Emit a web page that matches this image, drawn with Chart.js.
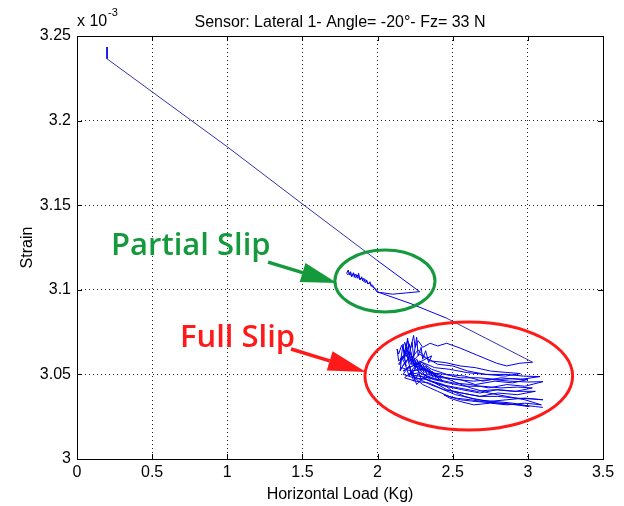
<!DOCTYPE html>
<html>
<head>
<meta charset="utf-8">
<script src="https://cdn.jsdelivr.net/npm/chart.js@4"></script>
<style>
  body { margin: 0; background: #fff; }
</style>
</head>
<body>
<canvas id="c" width="624" height="506"></canvas>
<script>
// axis ticks
const xTicks = [0, 0.5, 1, 1.5, 2, 2.5, 3, 3.5]
const yTicks = [3, 3.05, 3.1, 3.15, 3.2, 3.25]

// stick phase: straight drop of strain (x 10^-3) with load
const stickX = [0.20, 0.20, 1.00, 1.50, 2.00, 2.28]
const stickY = [3.2435, 3.2365, 3.1845, 3.1507, 3.1172, 3.0989]

// partial slip: back down to ~1.8 Kg with noise, then up again
const partialX = [2.10, 2.02, 2.005, 1.998, 1.987, 1.976, 1.967, 1.956, 1.949, 1.938, 1.927, 1.918, 1.909, 1.900,
  1.894, 1.883, 1.874, 1.865, 1.856, 1.845, 1.839, 1.828, 1.821, 1.812, 1.805, 1.794,
  1.803, 1.816, 1.826, 1.842, 1.852, 1.870, 1.880, 1.896, 1.905, 1.922, 1.934, 1.952, 1.962, 1.980, 1.994,
  2.216, 2.46, 3.032]
const partialY = [3.0974, 3.0984, 3.0985, 3.0995, 3.1003, 3.1009, 3.1028, 3.1022, 3.1048, 3.1034, 3.1058, 3.1042, 3.1068, 3.1054,
  3.1077, 3.1058, 3.1097, 3.1068, 3.1093, 3.1074, 3.1101, 3.1077, 3.1107, 3.1087, 3.1117, 3.1097,
  3.1090, 3.1102, 3.1080, 3.1096, 3.1072, 3.1088, 3.1062, 3.1070, 3.1050, 3.1060, 3.1036, 3.1040, 3.1020, 3.1012, 3.0989,
  3.0920, 3.0832, 3.0572]

// full slip: loops back and forth between ~2.1 and ~3.1 Kg
const fullX = [
  2.947, 2.859, 2.792, 2.659, 2.548, 2.46, 2.40, 2.35, 2.30, 2.27, 2.25, 2.24, 2.22, 2.20, 2.18, 2.16, 2.14, 2.13, 2.14,
  2.19, 2.23, 2.28, 2.35, 2.45, 2.55, 2.65, 2.75, 2.85, 2.95,
  2.85, 2.72, 2.60, 2.50, 2.40, 2.32, 2.27, 2.23, 2.21, 2.18, 2.15,
  2.19, 2.22, 2.30, 2.38, 2.48, 2.60, 2.72, 2.85, 2.97, 3.08,
  2.95, 2.82, 2.70, 2.58, 2.46, 2.36, 2.28, 2.25, 2.22, 2.19, 2.17, 2.14,
  2.15, 2.17, 2.18, 2.20, 2.21, 2.23, 2.24, 2.26, 2.27, 2.29, 2.30, 2.32, 2.34, 2.36,
  2.17, 2.20, 2.27, 2.35, 2.45, 2.55, 2.67, 2.80, 2.90, 3.00,
  2.90, 2.78, 2.65, 2.55, 2.43, 2.33, 2.29, 2.26, 2.23, 2.20, 2.16,
  2.22, 2.30, 2.40, 2.52, 2.64, 2.76, 2.88, 3.00, 3.10,
  2.98, 2.86, 2.74, 2.62, 2.50, 2.40, 2.30, 2.24, 2.21, 2.18, 2.15,
  2.16, 2.19, 2.17, 2.21, 2.18, 2.23, 2.20, 2.25, 2.22, 2.27, 2.24, 2.29, 2.26, 2.31, 2.28, 2.33, 2.30, 2.35, 2.32, 2.37,
  2.34, 2.39, 2.36, 2.41, 2.38, 2.43,
  2.21, 2.28, 2.37, 2.47, 2.58, 2.70, 2.82, 2.93, 3.03,
  2.92, 2.80, 2.68, 2.56, 2.45, 2.35, 2.27, 2.24, 2.21, 2.17,
  2.24, 2.32, 2.42, 2.54, 2.66, 2.78, 2.90, 3.05,
  2.93, 2.80, 2.68, 2.56, 2.46, 2.38, 2.30, 2.26, 2.23, 2.18,
  2.25, 2.34, 2.44, 2.56, 2.68, 2.80, 2.92, 3.02, 3.10,
  2.98, 2.86, 2.74, 2.62, 2.52, 2.415, 2.35, 2.28, 2.22,
  2.30, 2.40, 2.48, 2.526, 2.62, 2.70, 2.82, 2.92, 3.01,
  2.90, 2.78, 2.66, 2.58, 2.50, 2.44, 2.36, 2.30, 2.24,
  2.30, 2.40, 2.50, 2.62, 2.74, 2.86, 2.98, 3.09,
  2.98, 2.86, 2.75, 2.64, 2.55, 2.48, 2.44,
  2.55, 2.65, 2.80, 2.95, 3.05, 3.10
]
const fullY = [
  3.0566, 3.0550, 3.0566, 3.0615, 3.0656, 3.0684, 3.0668, 3.0684, 3.0660, 3.0700, 3.0660, 3.0730, 3.0655, 3.0700, 3.0635, 3.0672, 3.0620, 3.0650, 3.0580,
  3.0612, 3.0575, 3.0620, 3.0580, 3.0570, 3.0550, 3.0540, 3.0520, 3.0512, 3.0505,
  3.0490, 3.0500, 3.0520, 3.0550, 3.0560, 3.0600, 3.0645, 3.0600, 3.0680, 3.0610, 3.0590,
  3.0630, 3.0560, 3.0570, 3.0540, 3.0530, 3.0510, 3.0500, 3.0500, 3.0490, 3.0487,
  3.0470, 3.0480, 3.0460, 3.0490, 3.0500, 3.0530, 3.0580, 3.0540, 3.0630, 3.0570, 3.0600, 3.0560,
  3.0560, 3.0680, 3.0600, 3.0715, 3.0620, 3.0690, 3.0600, 3.0720, 3.0610, 3.0660, 3.0590, 3.0640, 3.0570, 3.0610,
  3.0520, 3.0540, 3.0560, 3.0510, 3.0500, 3.0480, 3.0480, 3.0470, 3.0475, 3.0470,
  3.0450, 3.0460, 3.0440, 3.0470, 3.0480, 3.0500, 3.0470, 3.0550, 3.0500, 3.0590, 3.0540,
  3.0520, 3.0530, 3.0490, 3.0470, 3.0460, 3.0470, 3.0460, 3.0455, 3.0457,
  3.0430, 3.0440, 3.0420, 3.0440, 3.0450, 3.0470, 3.0500, 3.0540, 3.0490, 3.0570, 3.0520,
  3.0600, 3.0550, 3.0650, 3.0580, 3.0690, 3.0560, 3.0640, 3.0540, 3.0620, 3.0530, 3.0600, 3.0520, 3.0590, 3.0510, 3.0570, 3.0500, 3.0560, 3.0495, 3.0550, 3.0485,
  3.0535, 3.0480, 3.0520, 3.0470, 3.0505, 3.0465,
  3.0500, 3.0510, 3.0470, 3.0450, 3.0430, 3.0430, 3.0420, 3.0425, 3.0420,
  3.0400, 3.0410, 3.0390, 3.0410, 3.0430, 3.0460, 3.0500, 3.0460, 3.0550, 3.0500,
  3.0480, 3.0470, 3.0440, 3.0420, 3.0400, 3.0410, 3.0400, 3.0400,
  3.0380, 3.0390, 3.0370, 3.0390, 3.0410, 3.0450, 3.0480, 3.0440, 3.0520, 3.0480,
  3.0460, 3.0450, 3.0410, 3.0390, 3.0370, 3.0370, 3.0360, 3.0355, 3.0350,
  3.0360, 3.0350, 3.0340, 3.0360, 3.0380, 3.0418, 3.0440, 3.0470, 3.0500,
  3.0440, 3.0400, 3.0368, 3.0359, 3.0350, 3.0339, 3.0330, 3.0320, 3.0310,
  3.0330, 3.0340, 3.0350, 3.0370, 3.0400, 3.0440, 3.0460, 3.0510, 3.0560,
  3.0530, 3.0500, 3.0460, 3.0420, 3.0390, 3.0370, 3.0350, 3.0320,
  3.0330, 3.0320, 3.0330, 3.0320, 3.0340, 3.0360, 3.0380,
  3.0350, 3.0340, 3.0330, 3.0320, 3.0310, 3.0305
]

const loadKg = stickX.concat(partialX, fullX)
const strain = stickY.concat(partialY, fullY)
const points = loadKg.map((v, i) => ({ x: v, y: strain[i] }))

const font = "'Liberation Sans', Arial, sans-serif"

function arrow(ctx, x1, y1, x2, y2, color, headLen, headW, w) {
  const a = Math.atan2(y2 - y1, x2 - x1),
    bx = x2 - headLen * Math.cos(a),
    by = y2 - headLen * Math.sin(a)
  ctx.strokeStyle = color
  ctx.fillStyle = color
  ctx.lineWidth = w
  ctx.beginPath()
  ctx.moveTo(x1, y1)
  ctx.lineTo(bx, by)
  ctx.stroke()
  ctx.beginPath()
  ctx.moveTo(x2, y2)
  ctx.lineTo(bx + (headW / 2) * Math.sin(a), by - (headW / 2) * Math.cos(a))
  ctx.lineTo(bx - (headW / 2) * Math.sin(a), by + (headW / 2) * Math.cos(a))
  ctx.closePath()
  ctx.fill()
}

// box, inward ticks, titles and the hand drawn notes
const decor = {
  id: 'decor',
  afterDraw(chart) {
    const { ctx, chartArea: ca, scales: { x, y } } = chart
    ctx.save()
    ctx.strokeStyle = '#000'
    ctx.lineWidth = 1
    ctx.strokeRect(ca.left + 0.5, ca.top + 0.5, ca.right - ca.left, ca.bottom - ca.top)
    ctx.beginPath()
    xTicks.forEach(v => {
      const px = Math.round(x.getPixelForValue(v)) + 0.5
      ctx.moveTo(px, ca.bottom); ctx.lineTo(px, ca.bottom - 5)
      ctx.moveTo(px, ca.top); ctx.lineTo(px, ca.top + 5)
    })
    yTicks.forEach(v => {
      const py = Math.round(y.getPixelForValue(v)) + 0.5
      ctx.moveTo(ca.left, py); ctx.lineTo(ca.left + 5, py)
      ctx.moveTo(ca.right, py); ctx.lineTo(ca.right - 5, py)
    })
    ctx.stroke()

    ctx.fillStyle = '#000'
    ctx.font = '16px ' + font
    ctx.textAlign = 'center'
    ctx.textBaseline = 'alphabetic'
    ctx.fillText('Sensor: Lateral 1- Angle= -20°- Fz= 33 N', (ca.left + ca.right) / 2, 27)
    ctx.fillText('Horizontal Load (Kg)', (ca.left + ca.right) / 2, 499)
    ctx.textAlign = 'left'
    ctx.fillText('x 10', ca.left, 26)
    ctx.font = '11px ' + font
    ctx.fillText('-3', ca.left + 31, 16)
    ctx.font = '16px ' + font
    ctx.save()
    ctx.translate(32, (ca.top + ca.bottom) / 2)
    ctx.rotate(-Math.PI / 2)
    ctx.textAlign = 'center'
    ctx.fillText('Strain', 0, 0)
    ctx.restore()

    // notes
    const green = '#14993c', red = '#ff1a1a'
    ctx.lineWidth = 3
    ctx.strokeStyle = green
    ctx.beginPath()
    ctx.ellipse(x.getPixelForValue(2.049), y.getPixelForValue(3.1052),
      x.getPixelForValue(2.049 + 0.333) - x.getPixelForValue(2.049),
      y.getPixelForValue(3.1052) - y.getPixelForValue(3.1052 + 0.0183), 0, 0, Math.PI * 2)
    ctx.stroke()
    ctx.strokeStyle = red
    ctx.beginPath()
    ctx.ellipse(x.getPixelForValue(2.607), y.getPixelForValue(3.0491),
      x.getPixelForValue(2.607 + 0.691) - x.getPixelForValue(2.607),
      y.getPixelForValue(3.0491) - y.getPixelForValue(3.0491 + 0.0319), 0, 0, Math.PI * 2)
    ctx.stroke()

    arrow(ctx, x.getPixelForValue(1.271), y.getPixelForValue(3.1164),
      x.getPixelForValue(1.730), y.getPixelForValue(3.104), green, 36, 20, 3.5)
    arrow(ctx, x.getPixelForValue(1.424), y.getPixelForValue(3.065),
      x.getPixelForValue(1.923), y.getPixelForValue(3.0514), red, 38, 20, 3.5)

    ctx.textAlign = 'left'
    ctx.font = "600 31px 'Open Sans', sans-serif"
    ctx.fillStyle = green
    ctx.fillText('Partial Slip', x.getPixelForValue(0.226), y.getPixelForValue(3.1206))
    ctx.fillStyle = red
    ctx.fillText('Full Slip', x.getPixelForValue(0.685), y.getPixelForValue(3.0662))
    ctx.restore()
  }
}

new Chart(document.getElementById('c'), {
  type: 'scatter',
  data: {
    datasets: [{
      data: points,
      showLine: true,
      borderColor: 'rgb(0,0,235)',
      borderWidth: 1,
      pointRadius: 0,
      tension: 0,
      // long straight runs look darker and thinner than the dense loops
      segment: {
        borderColor: c => Math.hypot(c.p1.x - c.p0.x, c.p1.y - c.p0.y) > 60 ? 'rgb(50,50,175)' : 'rgb(0,0,235)'
      }
    }]
  },
  options: {
    responsive: false,
    animation: false,
    layout: { padding: { top: 36, right: 21, left: 0, bottom: 0 } },
    plugins: { legend: { display: false }, tooltip: { enabled: false } },
    scales: {
      x: {
        type: 'linear',
        min: 0,
        max: 3.5,
        afterBuildTicks: s => { s.ticks = xTicks.map(v => ({ value: v })) },
        afterFit: s => { s.height = 47 },
        grid: { color: '#222', lineWidth: 1, drawTicks: false },
        border: { display: false, dash: [1, 3] },
        ticks: { color: '#000', padding: 4, maxRotation: 0, autoSkip: false, font: { family: font, size: 16 },
          callback: v => String(v) }
      },
      y: {
        type: 'linear',
        min: 3,
        max: 3.25,
        afterBuildTicks: s => { s.ticks = yTicks.map(v => ({ value: v })) },
        afterFit: s => { s.width = 77 },
        grid: { color: '#222', lineWidth: 1, drawTicks: false },
        border: { display: false, dash: [1, 3] },
        ticks: { color: '#000', padding: 6, autoSkip: false, font: { family: font, size: 16 },
          callback: v => String(v) }
      }
    }
  },
  plugins: [decor]
})
</script>
</body>
</html>
